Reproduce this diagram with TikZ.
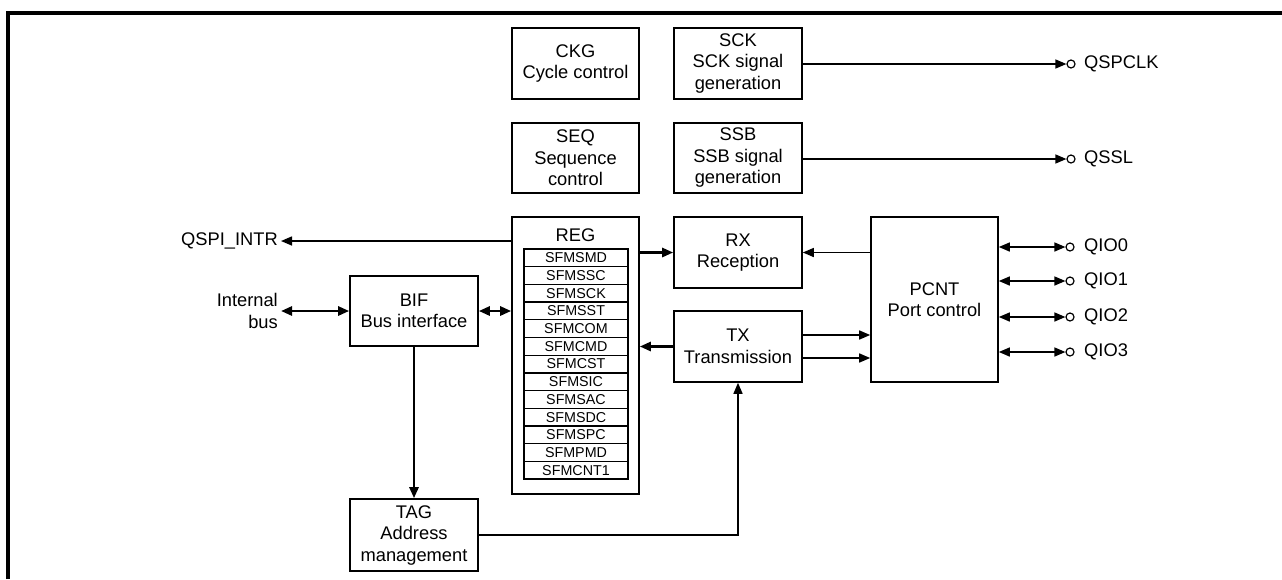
\documentclass[tikz,border=0pt]{standalone}
\usepackage{fontspec}
\setmainfont{Liberation Sans}
\usetikzlibrary{arrows.meta,calc}
\begin{document}
\begin{tikzpicture}[x=1pt,y=-1pt,
  box/.style={draw,line width=1.6pt,align=center,inner sep=0pt,font=\fontsize{18.3}{21.5}\selectfont},
  regrow/.style={draw,line width=1.3pt,minimum width=104pt,minimum height=17.7pt,inner sep=0pt,font=\fontsize{14.3}{15}\selectfont},
  conn/.style={line width=1.5pt},
  bold/.style={line width=2.6pt},
  tip/.style={-{Triangle[length=11pt,width=9pt]}},
  dtip/.style={{Triangle[length=11pt,width=9pt]}-{Triangle[length=11pt,width=9pt]}},
  term/.style={circle,draw,line width=1.2pt,fill=white,minimum size=8pt,inner sep=0pt},
  lbl/.style={font=\fontsize{18.3}{21.5}\selectfont,inner sep=0pt}
]
\useasboundingbox (0,0) rectangle (1282,579);
\draw[line width=3.3pt] (8,579) -- (8,13) -- (1282,13);

% blocks
\node[box,minimum width=127pt,minimum height=71pt] (ckg) at (575.5,63.5) {CKG\\Cycle control};
\node[box,minimum width=128pt,minimum height=71pt] (sck) at (738,63.5) {SCK\\SCK signal\\generation};
\node[box,minimum width=127pt,minimum height=70pt] (seq) at (575.5,158) {SEQ\\Sequence\\control};
\node[box,minimum width=128pt,minimum height=70pt] (ssb) at (738,158) {SSB\\SSB signal\\generation};
\node[box,minimum width=127pt,minimum height=277pt] (reg) at (575.5,355.5) {};
\node[lbl] (regl) at (575.5,235) {REG};
\node[box,minimum width=128pt,minimum height=71pt] (rx) at (738,252.5) {RX\\Reception};
\node[box,minimum width=128pt,minimum height=71pt] (tx) at (738,346.5) {TX\\Transmission};
\node[box,minimum width=127pt,minimum height=165pt] (pcnt) at (934.5,299.5) {PCNT\\Port control};
\node[box,minimum width=128pt,minimum height=70pt] (bif) at (414,311) {BIF\\Bus interface};
\node[box,minimum width=128pt,minimum height=72pt] (tag) at (414,535) {TAG\\Address\\management};

% registers
\foreach \n [count=\i from 0] in {SFMSMD,SFMSSC,SFMSCK,SFMSST,SFMCOM,SFMCMD,SFMCST,SFMSIC,SFMSAC,SFMSDC,SFMSPC,SFMPMD,SFMCNT1}
  \node[regrow] (r\i) at (576,{257.85+17.7*\i}) {\n};

% outputs
\node[term] (c1) at (1071,64) {};
\node[lbl,anchor=west] (qspclk) at (1084,64) {QSPCLK};
\node[term] (c2) at (1071,159) {};
\node[lbl,anchor=west] (qssl) at (1084,159) {QSSL};
\draw[conn,tip] (sck.east |- c1) -- (c1.west);
\draw[conn,tip] (ssb.east |- c2) -- (c2.west);

% interrupt
\node[lbl,anchor=east] (intr) at (278,241) {QSPI\_INTR};
\draw[conn,tip] (reg.west |- intr.east) -- ([xshift=3pt]intr.east);

% internal bus
\node[lbl,anchor=east,align=right] (ibus) at (278,311) {Internal\\bus};
\draw[bold,dtip] ([xshift=3pt]ibus.east) -- (bif.west);
\draw[bold,dtip] (bif.east) -- (reg.west |- bif.east);
\draw[bold,tip] (bif.south) -- (tag.north);

% REG / RX / TX / PCNT
\draw[bold,tip] (reg.east |- rx.west) -- (rx.west);
\draw[conn,tip] (pcnt.west |- rx.east) -- (rx.east);
\draw[bold,tip] (tx.west) -- (reg.east |- tx.west);
\coordinate (t1) at ($(tx.east)+(0,-11.5)$);
\coordinate (t2) at ($(tx.east)+(0,11.5)$);
\draw[conn,tip] (t1) -- (t1 -| pcnt.west);
\draw[conn,tip] (t2) -- (t2 -| pcnt.west);
\draw[conn,tip] (tag.east) -| (tx.south);

% QIO
\foreach \k/\y in {0/247,1/281,2/317,3/352}{
  \node[term] (q\k) at (1070,\y) {};
  \node[lbl,anchor=west] (ql\k) at (1084,\y) {QIO\k};
  \draw[conn,dtip] (pcnt.east |- q\k) -- (q\k.west);
}
\end{tikzpicture}
\end{document}
